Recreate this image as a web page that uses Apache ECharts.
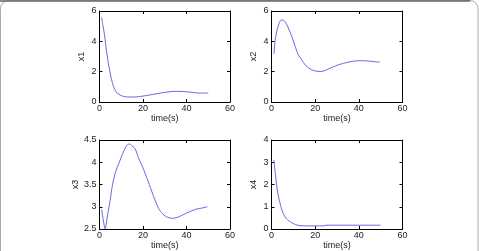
<!DOCTYPE html>
<html><head><meta charset="utf-8">
<script src="https://cdn.jsdelivr.net/npm/echarts@6/dist/echarts.min.js"></script>
<style>html,body{margin:0;padding:0;background:#fff}#c{width:479px;height:251px}</style>
</head><body><div id="c"></div>
<script>
// time axis ticks
const xTicks = [0, 20, 40, 60];
// series: x1
const t1 = [1, 1.5, 2, 2.5, 3, 3.5, 4, 4.8, 5.5, 6.4, 7.1, 8, 9.4, 11, 13, 15.6, 18, 20, 23, 26, 28, 31, 34, 37, 40, 42.5, 44.7, 47, 50];
const v1 = [5.58, 5.1, 4.7, 4.2, 3.6, 3.1, 2.6, 2.0, 1.5, 1.05, 0.8, 0.6, 0.46, 0.37, 0.33, 0.33, 0.35, 0.39, 0.46, 0.54, 0.59, 0.65, 0.7, 0.7, 0.67, 0.64, 0.6, 0.59, 0.59];
// series: x2
const t2 = [1.1, 1.8, 2.6, 3.5, 4.4, 5.2, 6.2, 7.5, 9.3, 11, 12.3, 14, 15.4, 17, 18.4, 20, 22.2, 24, 26, 28, 30.6, 33, 35.2, 37.5, 39.7, 42, 44.3, 47, 49.6];
const v2 = [3.16, 4.2, 4.75, 5.2, 5.4, 5.4, 5.3, 4.95, 4.31, 3.6, 3.11, 2.75, 2.45, 2.25, 2.12, 2.05, 2.01, 2.05, 2.17, 2.3, 2.45, 2.55, 2.63, 2.69, 2.72, 2.72, 2.7, 2.66, 2.63];
// series: x3
const t3 = [1, 1.8, 2.6, 3.5, 4.9, 6, 7.2, 8.3, 9.5, 10.7, 11.8, 13, 13.8, 14.9, 16.4, 17.9, 19, 20.2, 21.5, 22.9, 24, 25.5, 27.1, 28.5, 30.2, 31.5, 33.2, 35, 36.3, 38, 40.1, 42.5, 44.7, 47, 49.6];
const v3 = [2.94, 2.68, 2.5, 2.75, 3.15, 3.5, 3.75, 3.9, 4.05, 4.2, 4.32, 4.4, 4.41, 4.37, 4.3, 4.1, 3.98, 3.85, 3.68, 3.5, 3.35, 3.15, 2.97, 2.87, 2.79, 2.76, 2.74, 2.75, 2.77, 2.81, 2.86, 2.91, 2.95, 2.97, 3.0];
// series: x4
const t4 = [1.1, 1.8, 2.6, 3.3, 4.1, 4.8, 5.6, 6.7, 7.9, 9.3, 11, 13, 16, 20, 24, 25, 30, 35, 40, 45, 50];
const v4 = [3.1, 2.45, 1.8, 1.4, 1.09, 0.85, 0.65, 0.48, 0.37, 0.28, 0.2, 0.15, 0.14, 0.14, 0.14, 0.17, 0.17, 0.17, 0.17, 0.17, 0.17];
// y-axis specs
const yNames = ['x1', 'x2', 'x3', 'x4'];
const yMin = [0, 0, 2.5, 0];
const yMax = [6, 6, 4.5, 4];
const yInterval = [2, 2, 0.5, 1];

const T = [t1, t2, t3, t4], V = [v1, v2, v3, v4];
const grids = [
  {left: 99.5, top: 11, width: 130.5, height: 91},
  {left: 271.5, top: 11, width: 131, height: 91},
  {left: 99.5, top: 140, width: 130.5, height: 91.5},
  {left: 271.5, top: 140, width: 131, height: 91.5}
];
const font = 'Liberation Sans, Arial, sans-serif';
const txt = '#222';
const axLine = {show: true, onZero: false, lineStyle: {color: '#000', width: 1}};
const tick = {show: true, inside: true, length: 3, lineStyle: {color: '#000'}};
const xAxis = [], yAxis = [], series = [];
for (let i = 0; i < 4; i++) {
  xAxis.push({gridIndex: i, type: 'value', min: 0, max: 60, interval: 20, position: 'bottom',
    name: 'time(s)', nameLocation: 'middle', nameGap: 12,
    nameTextStyle: {fontFamily: font, fontSize: 9, color: txt},
    axisLine: axLine, axisTick: tick, splitLine: {show: false},
    axisLabel: {fontFamily: font, fontSize: 9, color: txt, margin: 2}});
  xAxis.push({gridIndex: i, type: 'value', min: 0, max: 60, interval: 20, position: 'top',
    axisLine: axLine, axisTick: tick, splitLine: {show: false}, axisLabel: {show: false}});
  yAxis.push({gridIndex: i, type: 'value', min: yMin[i], max: yMax[i], interval: yInterval[i], position: 'left',
    name: yNames[i], nameLocation: 'middle', nameGap: 13, nameRotate: 90,
    nameTextStyle: {fontFamily: font, fontSize: 9, color: txt},
    axisLine: axLine, axisTick: tick, splitLine: {show: false},
    axisLabel: {fontFamily: font, fontSize: 9, color: txt, margin: 3}});
  yAxis.push({gridIndex: i, type: 'value', min: yMin[i], max: yMax[i], interval: yInterval[i], position: 'right',
    axisLine: axLine, axisTick: tick, splitLine: {show: false}, axisLabel: {show: false}});
  series.push({type: 'line', xAxisIndex: 2 * i, yAxisIndex: 2 * i, showSymbol: false, symbol: 'none',
    smooth: 0.3, silent: true, animation: false,
    lineStyle: {color: '#6868e0', width: 1},
    data: T[i].map((t, k) => [t, V[i][k]])});
}
const chart = echarts.init(document.getElementById('c'), null, {renderer: 'canvas'});
chart.setOption({
  animation: false,
  backgroundColor: '#fff',
  grid: grids,
  xAxis, yAxis, series,
  graphic: [
    {type: 'rect', shape: {x: 0.5, y: 0.5, width: 477.5, height: 400, r: 8}, style: {fill: 'none', stroke: '#aaa', lineWidth: 1}, silent: true},
    {type: 'line', shape: {x1: 0, y1: 1, x2: 470, y2: 1}, style: {stroke: '#666', lineWidth: 1.5}, silent: true}
  ]
});
</script></body></html>
